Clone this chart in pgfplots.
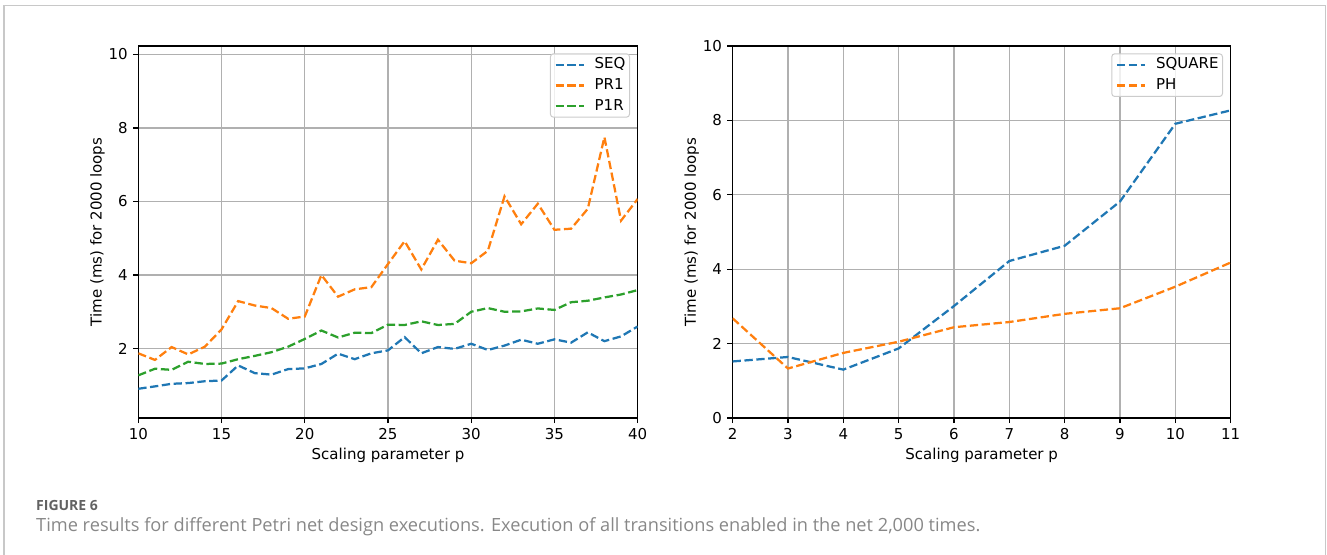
\documentclass[border=0pt]{standalone}
\usepackage{fontspec}
\setmainfont{DejaVu Sans}
\newfontfamily\capfont{Open Sans}
\usepackage{pgfplots}
\pgfplotsset{compat=1.18}
\definecolor{tabblue}{HTML}{1F77B4}
\definecolor{taborange}{HTML}{FF7F0E}
\definecolor{tabgreen}{HTML}{2CA02C}
\definecolor{gridc}{HTML}{B0B0B0}
\definecolor{legc}{HTML}{CCCCCC}
\definecolor{framec}{HTML}{C8C8C8}
\definecolor{figc}{HTML}{626262}
\definecolor{capc}{HTML}{888888}
\pgfplotsset{
  mpl/.style={
    scale only axis,
    width=499.4bp, height=372bp,
    font=\fontsize{15bp}{18bp}\selectfont,
    /pgf/number format/assume math mode=true,
    axis line style={black, line width=1.2bp},
    grid=major,
    major grid style={gridc, line width=1.2bp},
    tick align=outside,
    xtick pos=bottom, ytick pos=left,
    major tick length=5.25bp,
    tick style={black, line width=1.2bp},
    xticklabel style={anchor=base, yshift=-16bp, inner sep=0pt},
    yticklabel style={anchor=east, inner sep=0pt, xshift=-5.25bp},
    xlabel style={at={(axis description cs:0.5,0)}, anchor=base, yshift=-41bp, inner sep=0pt},
    ylabel style={at={(axis description cs:-0.067,0.5)}, anchor=south, rotate=0, inner sep=0pt},
    xlabel={Scaling parameter p},
    ylabel={Time (ms) for 2000 loops},
    legend cell align=left,
    legend image code/.code={\draw[#1] (0bp,0bp) -- (28bp,0bp);},
    legend style={at={(1,1)}, anchor=north east, xshift=-7.7bp, yshift=-7.3bp,
      draw=legc, line width=1bp, rounded corners=3bp, fill=white, fill opacity=0.8, text opacity=1,
      inner sep=4bp, column sep=10bp, row sep=6.7bp,
      nodes={inner sep=0pt, text height=11bp, text depth=3bp, anchor=west},
      font=\fontsize{15bp}{18bp}\selectfont},
  },
  ser/.style={line width=2.25bp, dash pattern=on 8.3bp off 3.6bp, no marks},
}
\begin{document}
\begin{tikzpicture}
\path[use as bounding box] (0bp,0bp) rectangle (1327bp,555bp);
\draw[framec, line width=1.5bp] (4bp,0bp) -- (4bp,549.5bp) -- (1325.7bp,549.5bp) -- (1325.7bp,0bp);
\begin{axis}[mpl, at={(138.3bp,137bp)}, anchor=south west,
  xmin=10, xmax=40, ymin=0.11, ymax=10.23,
  xtick={10,15,...,40}, ytick={2,4,6,8,10}]
\addplot[ser, tabblue] coordinates {(10,0.905)(11,0.97)(12,1.04)(13,1.06)(14,1.11)(15,1.13)(16,1.54)(17,1.33)(18,1.29)(19,1.44)(20,1.46)(21,1.58)(22,1.86)(23,1.71)(24,1.87)(25,1.95)(26,2.31)(27,1.87)(28,2.04)(29,1.99)(30,2.13)(31,1.96)(32,2.08)(33,2.24)(34,2.13)(35,2.25)(36,2.16)(37,2.44)(38,2.2)(39,2.33)(40,2.6)};
\addlegendentry{SEQ}
\addplot[ser, taborange] coordinates {(10,1.87)(11,1.69)(12,2.04)(13,1.84)(14,2.05)(15,2.52)(16,3.29)(17,3.17)(18,3.1)(19,2.81)(20,2.87)(21,4.0)(22,3.41)(23,3.61)(24,3.67)(25,4.3)(26,4.92)(27,4.15)(28,4.96)(29,4.39)(30,4.32)(31,4.66)(32,6.14)(33,5.38)(34,5.94)(35,5.23)(36,5.26)(37,5.8)(38,7.75)(39,5.48)(40,6.07)};
\addlegendentry{PR1}
\addplot[ser, tabgreen] coordinates {(10,1.27)(11,1.45)(12,1.42)(13,1.64)(14,1.58)(15,1.59)(16,1.71)(17,1.80)(18,1.90)(19,2.05)(20,2.26)(21,2.49)(22,2.30)(23,2.43)(24,2.42)(25,2.65)(26,2.64)(27,2.74)(28,2.64)(29,2.67)(30,3.0)(31,3.1)(32,3.0)(33,3.01)(34,3.09)(35,3.05)(36,3.26)(37,3.30)(38,3.39)(39,3.47)(40,3.59)};
\addlegendentry{P1R}
\end{axis}
\begin{axis}[mpl, at={(732.6bp,137bp)}, anchor=south west, width=498.1bp,
  xmin=2, xmax=11, ymin=0, ymax=10,
  xtick={2,3,...,11}, ytick={0,2,...,10}]
\addplot[ser, tabblue] coordinates {(2,1.52)(3,1.64)(4,1.30)(5,1.87)(6,3.01)(7,4.22)(8,4.63)(9,5.82)(10,7.91)(11,8.27)};
\addlegendentry{SQUARE}
\addplot[ser, taborange] coordinates {(2,2.68)(3,1.33)(4,1.75)(5,2.05)(6,2.44)(7,2.58)(8,2.80)(9,2.95)(10,3.53)(11,4.18)};
\addlegendentry{PH}
\end{axis}
\node[anchor=base west, inner sep=0pt, text=figc, font=\capfont\bfseries\fontsize{14bp}{16bp}\selectfont] at (36bp,44bp) {FIGURE 6};
\node[anchor=base west, inner sep=0pt, text=capc, font=\capfont\fontsize{18.2bp}{21bp}\selectfont] at (36bp,24bp) {Time results for different Petri net design executions. Execution of all transitions enabled in the net 2,000 times.};
\end{tikzpicture}
\end{document}
